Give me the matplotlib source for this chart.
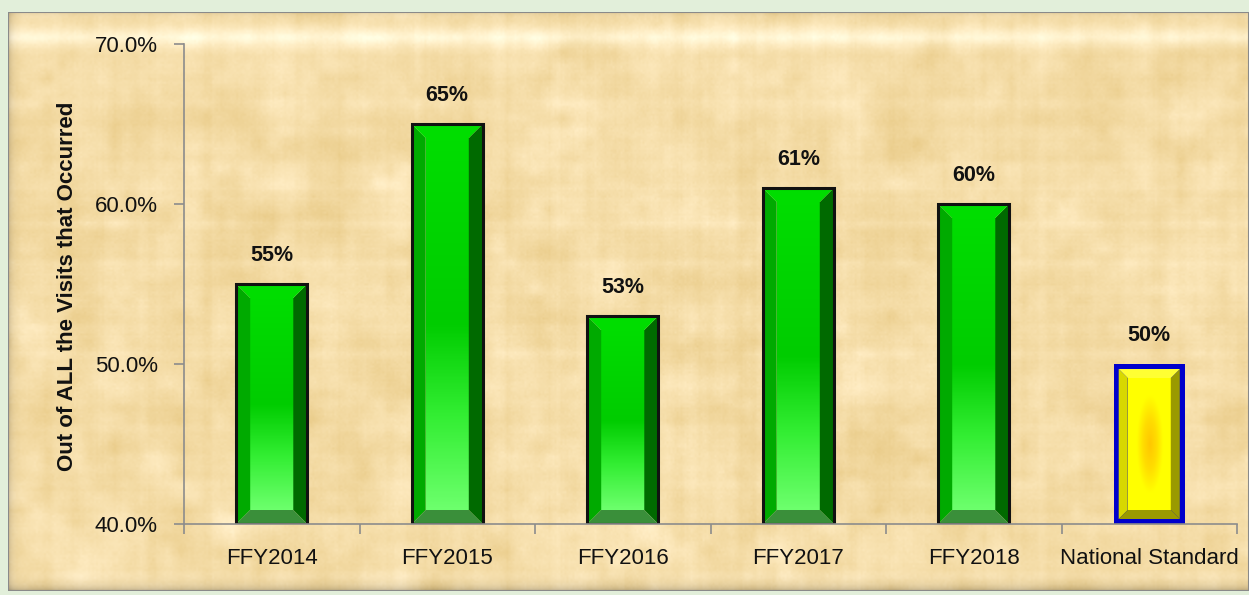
import matplotlib
matplotlib.use("Agg")
import matplotlib.pyplot as plt
from matplotlib.patches import Polygon, Rectangle
from matplotlib.colors import LinearSegmentedColormap
import numpy as np

categories = ["FFY2014", "FFY2015", "FFY2016", "FFY2017", "FFY2018", "National Standard"]
values = [55, 65, 53, 61, 60, 50]
labels = ["55%", "65%", "53%", "61%", "60%", "50%"]
y_ticks = [40, 50, 60, 70]
y_ticklabels = ["40.0%", "50.0%", "60.0%", "70.0%"]
y_label = "Out of ALL the Visits that Occurred"

plt.rcParams['font.family'] = ['Liberation Sans', 'DejaVu Sans']

W, H = 1249, 595
fig = plt.figure(figsize=(W / 100, H / 100), dpi=100)
fig.patch.set_facecolor("#e2efda")


def upsample(a, shape):
    # bilinear resize of a small array, keeps the blotches soft
    r = np.linspace(0, a.shape[0] - 1, shape[0])
    c = np.linspace(0, a.shape[1] - 1, shape[1])
    tmp = np.array([np.interp(c, np.arange(a.shape[1]), row) for row in a])
    return np.array([np.interp(r, np.arange(a.shape[0]), col) for col in tmp.T]).T


# parchment panel with texture (decoration only)
bg = fig.add_axes([8 / W, 1 - 591 / H, 1 - 8 / W, 579 / H])
bg.set_axis_off()
rng = np.random.default_rng(7)
h, w = 290, 620
cols = np.convolve(rng.normal(0, 1, w), np.ones(4) / 4, mode="same")
rows = np.convolve(rng.normal(0, 1, h), np.ones(4) / 4, mode="same")
blot = upsample(rng.normal(0, 1, (18, 36)), (h, w))
blot2 = upsample(rng.normal(0, 1, (45, 95)), (h, w))
tex = 0.35 * cols[None, :] + 0.35 * rows[:, None] + 0.6 * blot + 0.4 * blot2 + 0.15 * rng.normal(0, 1, (h, w))
tex = (tex - tex.mean()) / tex.std()
base = np.array([245, 221, 168]) / 255.0
img = base[None, None, :] + 0.02 * tex[:, :, None] * np.array([0.6, 0.9, 1.6])[None, None, :]
yy = np.linspace(0, 1, h)[:, None]
xx = np.linspace(0, 1, w)[None, :]
hl = np.exp(-((yy - 0.042) / 0.016) ** 2)
img = img + hl[:, :, None] * np.array([0.05, 0.09, 0.16])[None, None, :]
shade = (1 - 0.2 * np.exp(-(1 - yy) / 0.008) - 0.15 * np.exp(-xx / 0.003)
         - 0.06 * np.exp(-yy / 0.005))
img = np.clip(img * shade[:, :, None], 0, 1)
bg.imshow(img, aspect="auto", extent=[0, 1, 0, 1], interpolation="bilinear")
bg.set_xlim(0, 1)
bg.set_ylim(0, 1)
bg.add_patch(Rectangle((0, 0), 1, 1, fill=False, edgecolor="#8a8a8a", lw=1.5, transform=bg.transAxes))

ax = fig.add_axes([184 / W, 1 - 524 / H, (1237 - 184) / W, (524 - 44) / H])
ax.patch.set_alpha(0)

x = np.arange(len(categories))
bw = 0.405
bars = ax.bar(x, [v - y_ticks[0] for v in values], bottom=y_ticks[0], width=bw,
              color="none", edgecolor="none", zorder=2)

ax.set_xlim(-0.5, len(categories) - 0.5)
ax.set_ylim(y_ticks[0], y_ticks[-1])

px_x = 1.0 / ((1237 - 184) / len(categories))
px_y = (y_ticks[-1] - y_ticks[0]) / (524 - 44)

green_front = LinearSegmentedColormap.from_list("gf", ["#00dd00", "#00d400", "#00cc00", "#33ee33", "#6cff6c"])
yellow_front = LinearSegmentedColormap.from_list("yf", ["#ffc800", "#ffdd00", "#ffff00", "#ffff00"])

for i, b in enumerate(bars):
    x0 = b.get_x()
    x1 = x0 + b.get_width()
    y0 = b.get_y()
    y1 = y0 + b.get_height()
    natl = categories[i] == "National Standard"
    bev = 9 if natl else 14
    dx = bev * px_x
    dy = bev * px_y
    if natl:
        pad_x = 5 * px_x
        pad_y = 5 * px_y
        ax.add_patch(Rectangle((x0, y0), x1 - x0, y1 - y0, facecolor="#0000cc", edgecolor="none", zorder=2))
        ox0, ox1, oy0, oy1 = x0 + pad_x, x1 - pad_x, y0 + pad_y, y1 - pad_y
        cl, cr, ct, cb = "#d8d800", "#9a9a00", "#ffff33", "#9a9a00"
    else:
        ox0, ox1, oy0, oy1 = x0, x1, y0, y1
        cl, cr, ct, cb = "#00aa00", "#006a00", "#00dd00", "#3a8f3a"
    ix0, ix1, iy0, iy1 = ox0 + dx, ox1 - dx, oy0 + dy, oy1 - dy
    if natl:
        gx = np.linspace(-1, 1, 60)[None, :]
        gy = np.linspace(-1, 1, 120)[:, None]
        r = np.sqrt((gx * 1.1) ** 2 + (gy * 0.9) ** 2)
        ax.imshow(np.clip(r, 0, 1), cmap=yellow_front, aspect="auto",
                  extent=[ix0, ix1, iy0, iy1], zorder=2.2, interpolation="bilinear")
    else:
        grad = np.linspace(0, 1, 100)[:, None] * np.ones((1, 2))
        ax.imshow(grad, cmap=green_front, aspect="auto", origin="upper",
                  extent=[ix0, ix1, iy0, iy1], zorder=2.2, interpolation="bilinear")
    ax.add_patch(Polygon([(ox0, oy0), (ix0, iy0), (ix0, iy1), (ox0, oy1)], closed=True,
                         facecolor=cl, edgecolor="none", zorder=2.3))
    ax.add_patch(Polygon([(ox1, oy0), (ix1, iy0), (ix1, iy1), (ox1, oy1)], closed=True,
                         facecolor=cr, edgecolor="none", zorder=2.3))
    ax.add_patch(Polygon([(ox0, oy1), (ix0, iy1), (ix1, iy1), (ox1, oy1)], closed=True,
                         facecolor=ct, edgecolor="none", zorder=2.3))
    ax.add_patch(Polygon([(ox0, oy0), (ix0, iy0), (ix1, iy0), (ox1, oy0)], closed=True,
                         facecolor=cb, edgecolor="none", zorder=2.3))
    if not natl:
        ax.add_patch(Rectangle((x0, y0), x1 - x0, y1 - y0, fill=False, edgecolor="#111111",
                               lw=2.2, zorder=2.5))
    ax.annotate(labels[i], (b.get_x() + b.get_width() / 2, y1), xytext=(0, 13),
                textcoords="offset points", ha="center", va="bottom",
                fontsize=15.5, fontweight="bold", color="#111111", zorder=3)

for s in ["top", "right"]:
    ax.spines[s].set_visible(False)
for s in ["left", "bottom"]:
    ax.spines[s].set_color("#8c8c8c")
    ax.spines[s].set_linewidth(1.2)
    ax.spines[s].set_zorder(2.6)

ax.set_yticks(y_ticks)
ax.set_yticklabels(y_ticklabels, fontsize=16, color="#111111")
ax.set_xticks(x)
ax.set_xticklabels(categories, fontsize=16, color="#111111")
ax.tick_params(axis="x", length=0, pad=17)
ax.set_xticks(np.arange(len(categories) + 1) - 0.5, minor=True)
ax.tick_params(axis="x", which="minor", length=7, color="#8c8c8c", width=1.2)
ax.tick_params(axis="y", length=7, color="#8c8c8c", width=1.2, pad=12)

fig.text(68 / W, 1 - 286 / H, y_label, rotation=90, ha="center", va="center",
         fontsize=16, fontweight="bold", color="#111111")

fig.savefig("out.png", dpi=100, facecolor=fig.get_facecolor())
